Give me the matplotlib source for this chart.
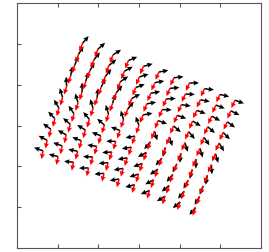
import numpy as np
import matplotlib
matplotlib.use("Agg")
import matplotlib.pyplot as plt

# grid point positions (rows top to bottom, columns left to right)
x_pos = [
    [-1.39, -1.01, -0.64, -0.26, 0.11, 0.49, 0.86, 1.24, 1.61, 1.99, 2.36],
    [-1.49, -1.11, -0.74, -0.36, 0.01, 0.39, 0.76, 1.14, 1.51, 1.89, 2.26],
    [-1.58, -1.21, -0.83, -0.46, -0.08, 0.29, 0.67, 1.04, 1.42, 1.79, 2.17],
    [-1.68, -1.31, -0.93, -0.56, -0.18, 0.19, 0.57, 0.94, 1.32, 1.69, 2.07],
    [-1.78, -1.40, -1.03, -0.65, -0.28, 0.10, 0.47, 0.85, 1.22, 1.60, 1.97],
    [-1.88, -1.50, -1.13, -0.75, -0.38, 0.00, 0.38, 0.75, 1.13, 1.50, 1.88],
    [-1.97, -1.60, -1.22, -0.85, -0.47, -0.10, 0.28, 0.65, 1.03, 1.40, 1.78],
    [-2.07, -1.69, -1.32, -0.94, -0.57, -0.19, 0.18, 0.56, 0.93, 1.31, 1.68],
    [-2.17, -1.79, -1.42, -1.04, -0.67, -0.29, 0.08, 0.46, 0.83, 1.21, 1.58],
    [-2.26, -1.89, -1.51, -1.14, -0.76, -0.39, -0.01, 0.36, 0.74, 1.11, 1.49],
    [-2.36, -1.99, -1.61, -1.24, -0.86, -0.49, -0.11, 0.26, 0.64, 1.01, 1.39],
]
y_pos = [
    [2.01, 1.87, 1.73, 1.59, 1.45, 1.31, 1.17, 1.04, 0.90, 0.76, 0.62],
    [1.74, 1.61, 1.47, 1.33, 1.19, 1.05, 0.91, 0.77, 0.63, 0.50, 0.36],
    [1.48, 1.34, 1.20, 1.07, 0.93, 0.79, 0.65, 0.51, 0.37, 0.23, 0.09],
    [1.22, 1.08, 0.94, 0.80, 0.66, 0.53, 0.39, 0.25, 0.11, -0.03, -0.17],
    [0.96, 0.82, 0.68, 0.54, 0.40, 0.26, 0.12, -0.01, -0.15, -0.29, -0.43],
    [0.69, 0.56, 0.42, 0.28, 0.14, 0.00, -0.14, -0.28, -0.42, -0.56, -0.69],
    [0.43, 0.29, 0.15, 0.01, -0.12, -0.26, -0.40, -0.54, -0.68, -0.82, -0.96],
    [0.17, 0.03, -0.11, -0.25, -0.39, -0.53, -0.66, -0.80, -0.94, -1.08, -1.22],
    [-0.09, -0.23, -0.37, -0.51, -0.65, -0.79, -0.93, -1.07, -1.20, -1.34, -1.48],
    [-0.36, -0.50, -0.63, -0.77, -0.91, -1.05, -1.19, -1.33, -1.47, -1.61, -1.74],
    [-0.62, -0.76, -0.90, -1.04, -1.17, -1.31, -1.45, -1.59, -1.73, -1.87, -2.01],
]
# direction of the black vectors (degrees)
black_deg = [
    [50, 41, 32, 23, 15, 10, 6, 1, -6, -13, -20],
    [58, 50, 39, 28, 17, 10, 5, -2, -11, -20, -27],
    [68, 60, 50, 35, 20, 10, 3, -8, -20, -29, -36],
    [80, 74, 64, 50, 28, 10, -2, -20, -32, -41, -46],
    [93, 90, 84, 74, 50, 10, -20, -41, -50, -56, -59],
    [107, 107, 107, 107, 107, 110, -73, -73, -73, -73, -73],
    [121, 124, 130, 139, 160, -170, -130, -106, -96, -90, -87],
    [134, 139, 148, 160, 178, -170, -152, -130, -116, -106, -100],
    [144, 151, 160, 172, -177, -170, -160, -145, -130, -120, -112],
    [153, 160, 169, 178, -175, -170, -163, -152, -141, -130, -122],
    [160, 167, 174, -179, -174, -170, -165, -157, -148, -139, -130],
]
# direction of the red vectors (degrees)
red_deg = [
    [250, 249, 248, 247, 246, 246, 245, 245, 245, 245, 245],
    [251, 250, 249, 248, 247, 246, 246, 245, 245, 245, 245],
    [252, 251, 250, 249, 248, 247, 246, 246, 245, 245, 245],
    [253, 252, 251, 250, 249, 248, 247, 246, 246, 245, 245],
    [254, 253, 252, 251, 250, 249, 248, 247, 246, 246, 245],
    [255, 254, 253, 252, 251, 250, 249, 248, 247, 246, 246],
    [256, 255, 254, 253, 252, 251, 250, 249, 248, 247, 246],
    [257, 256, 255, 254, 253, 252, 251, 250, 249, 248, 247],
    [258, 257, 256, 255, 254, 253, 252, 251, 250, 249, 248],
    [259, 258, 257, 256, 255, 254, 253, 252, 251, 250, 249],
    [260, 259, 258, 257, 256, 255, 254, 253, 252, 251, 250],
]
black_len = 0.235
red_len = 0.21

X = np.array(x_pos)
Y = np.array(y_pos)
tb = np.deg2rad(np.array(black_deg, dtype=float))
tr = np.deg2rad(np.array(red_deg, dtype=float))

fig = plt.figure(figsize=(2.69, 2.52), dpi=100)
ax = fig.add_axes([17/269, 4/252, 244/269, 245/252])
style = dict(angles='xy', scale_units='xy', scale=1, width=0.0062,
             headwidth=3.3, headlength=3.6, headaxislength=3.3)
ax.quiver(X, Y, black_len*np.cos(tb), black_len*np.sin(tb), color='black', **style)
ax.quiver(X, Y, red_len*np.cos(tr), red_len*np.sin(tr), color='red', **style)
ax.set_xlim(-3, 3)
ax.set_ylim(-3, 3)
ax.set_xticks([-2, -1, 0, 1, 2])
ax.set_yticks([-2, -1, 0, 1, 2])
ax.tick_params(direction='in', length=3, top=True, right=False,
               labelleft=False, labelbottom=False, color='#555555')
for s in ax.spines.values():
    s.set_color('#555555')
fig.savefig('out.png', dpi=100)
